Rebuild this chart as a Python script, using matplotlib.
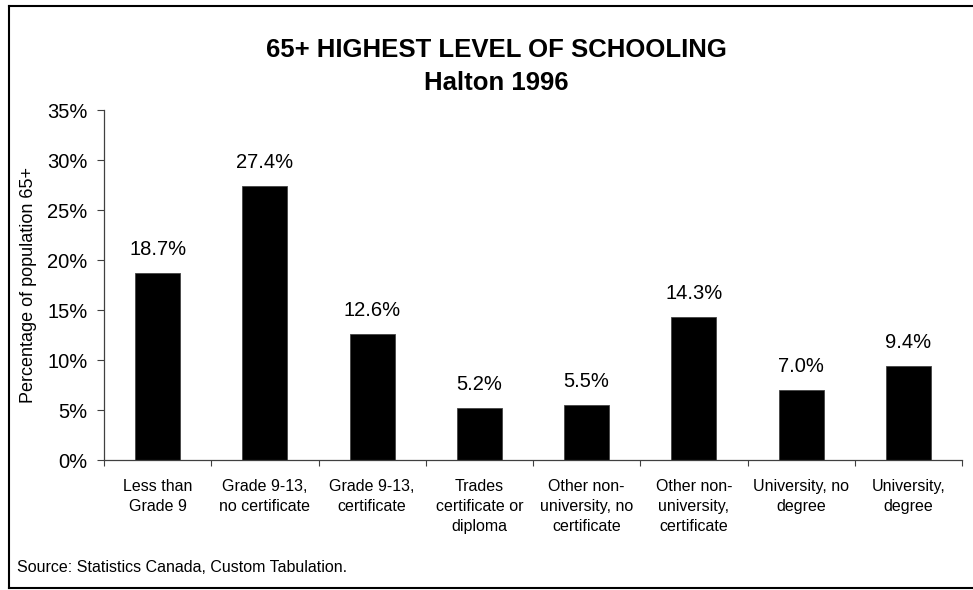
import matplotlib

matplotlib.use("Agg")
import matplotlib.pyplot as plt  # noqa: E402
import numpy as np  # noqa: E402
from matplotlib.lines import Line2D  # noqa: E402

plt.rcParams["font.family"] = ["Liberation Sans", "DejaVu Sans"]

# ---- data ----
categories = [
    "Less than\nGrade 9",
    "Grade 9-13,\nno certificate",
    "Grade 9-13,\ncertificate",
    "Trades\ncertificate or\ndiploma",
    "Other non-\nuniversity, no\ncertificate",
    "Other non-\nuniversity,\ncertificate",
    "University, no\ndegree",
    "University,\ndegree",
]
pct = [18.7, 27.4, 12.6, 5.2, 5.5, 14.3, 7.0, 9.4]
yticks = [0, 5, 10, 15, 20, 25, 30, 35]

fig = plt.figure(figsize=(9.73, 5.90), dpi=100)
ax = fig.add_axes([0.1069, 0.2203, 0.8818, 0.5932])

x = np.arange(len(categories))
bars = ax.bar(x, pct, width=0.42, color="black", edgecolor="#444444", linewidth=0.6)
for b, v in zip(bars, pct):
    ax.annotate(f"{v:.1f}%", (b.get_x() + b.get_width() / 2, v),
                xytext=(0, 10), textcoords="offset points",
                ha="center", va="bottom", fontsize=14.5)

ax.set_xlim(-0.5, len(categories) - 0.5)
ax.set_ylim(0, 35)
ax.set_yticks(yticks)
ax.set_yticklabels([f"{t}%" for t in yticks], fontsize=14.5)
ax.tick_params(axis="y", length=5, width=0.8, color="#404040", pad=7)

# category labels centred, tick marks on the category boundaries
ax.set_xticks(x)
ax.set_xticklabels(categories, fontsize=11.5, linespacing=1.4, va="top")
ax.tick_params(axis="x", which="major", length=0, pad=14)
ax.set_xticks(np.arange(len(categories) + 1) - 0.5, minor=True)
ax.tick_params(axis="x", which="minor", length=4, width=0.8, color="#404040")

for s in ["top", "right"]:
    ax.spines[s].set_visible(False)
for s in ["left", "bottom"]:
    ax.spines[s].set_color("#404040")
    ax.spines[s].set_linewidth(0.9)

ax.set_ylabel("Percentage of population 65+", fontsize=13)
ax.yaxis.set_label_coords(-0.078, 0.5)

fig.text(0.51, 1 - 57 / 590, "65+ HIGHEST LEVEL OF SCHOOLING", ha="center",
         va="baseline", fontsize=18.5, fontweight="bold")
fig.text(0.51, 1 - 90 / 590, "Halton 1996", ha="center", va="baseline",
         fontsize=18.5, fontweight="bold")
fig.text(17 / 973, 1 - 572 / 590, "Source: Statistics Canada, Custom Tabulation.",
         ha="left", va="baseline", fontsize=11.5)

# outer chart-area border (right edge runs off the image)
l, r, t, bt = 9 / 973, 1.01, 1 - 6 / 590, 1 - 588 / 590
for xs, ys in [((l, r), (t, t)), ((l, r), (bt, bt)), ((l, l), (bt, t))]:
    fig.add_artist(Line2D(xs, ys, color="black", lw=1.5, transform=fig.transFigure))

fig.savefig("out.png", dpi=100)
